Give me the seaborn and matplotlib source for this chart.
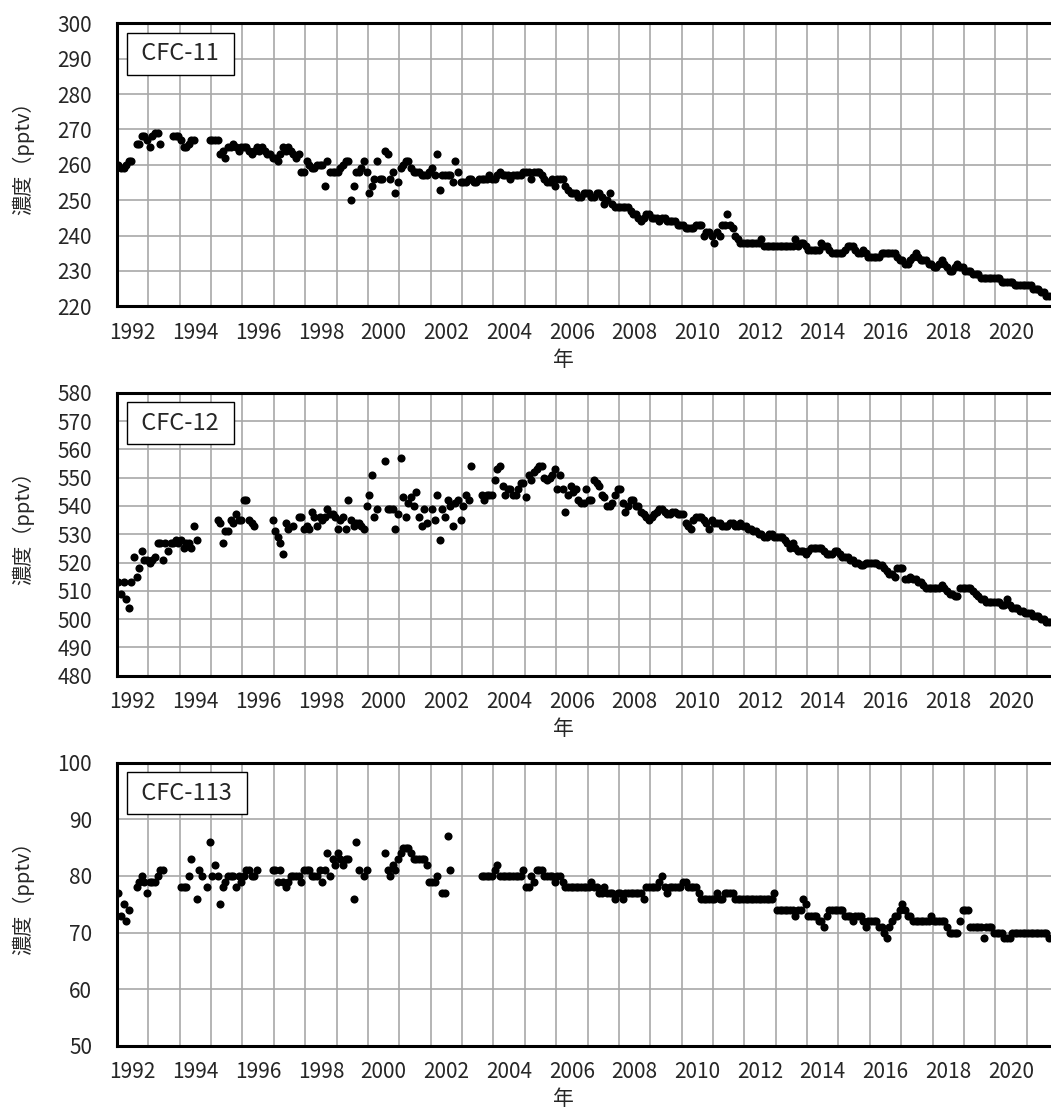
import pandas as pd
import matplotlib.pyplot as plt
import seaborn as sns

# monthly values, one string per year (Jan..Dec), "." = no data
years = list(range(1992, 2022))
label_years = list(range(1992, 2021, 2))

cfc11 = [
    "260 259 259 260 261 261 . 266 266 268 268 267",
    "265 268 269 269 266 . . . . 268 268 268",
    "267 265 265 266 267 267 . . . . . 267",
    "267 267 267 263 264 262 265 265 266 265 264 265",
    "265 265 264 263 264 265 264 265 264 263 263 262",
    "262 261 263 265 264 265 264 263 262 263 258 258",
    "261 260 259 259 260 260 260 254 261 258 258 258",
    "258 259 260 261 261 250 254 258 258 259 261 258",
    "252 254 256 261 256 256 264 263 256 258 252 255",
    "259 260 261 261 259 258 258 258 257 257 257 258",
    "259 257 263 253 257 257 257 257 255 261 258 255",
    "255 255 256 256 255 255 256 256 256 256 257 256",
    "256 257 258 257 257 257 256 257 257 257 257 258",
    "258 258 256 258 258 258 257 256 255 255 256 254",
    "256 256 256 254 253 252 252 252 251 251 252 252",
    "252 251 251 252 252 251 249 250 252 249 248 248",
    "248 248 248 248 247 246 246 245 244 245 246 246",
    "245 245 245 244 245 245 244 244 244 244 243 243",
    "243 242 242 242 242 243 243 243 240 241 241 240",
    "238 241 240 243 243 246 243 242 240 239 238 238",
    "238 238 238 238 238 238 239 237 237 237 237 237",
    "237 237 237 237 237 237 237 239 237 238 238 237",
    "236 236 236 236 236 238 237 237 236 235 235 235",
    "235 235 236 237 237 237 236 235 235 236 235 234",
    "234 234 234 234 235 235 235 235 235 235 234 233",
    "233 232 232 233 234 235 234 233 233 233 232 232",
    "231 231 232 233 232 231 230 230 231 232 231 231",
    "230 230 230 229 229 229 228 228 228 228 228 228",
    "228 228 227 227 227 227 227 226 226 226 226 226",
    "226 226 225 225 225 224 224 223 223",
]

cfc12 = [
    "513 509 513 507 504 513 522 515 518 524 521 521",
    "520 521 522 527 527 521 527 524 527 527 528 527",
    "528 525 527 527 525 533 528 . . . . .",
    ". . 535 534 527 531 531 535 534 537 535 535",
    "542 542 535 534 533 . . . . . . 535",
    "531 529 527 523 534 532 . 533 . 536 536 532",
    "533 532 538 536 533 536 535 536 539 537 537 536",
    "532 535 536 532 542 535 533 534 534 533 532 540",
    "544 551 536 539 . . 556 539 539 539 532 537",
    "557 543 536 541 543 540 545 536 533 539 534 .",
    "539 535 544 528 539 536 542 540 533 541 542 535",
    "540 544 542 554 . . . 544 542 544 544 544",
    "549 553 554 547 544 546 546 544 544 546 548 548",
    "543 551 549 552 553 554 554 550 549 550 551 553",
    "546 551 546 538 544 547 545 546 542 541 541 546",
    "542 542 549 548 547 544 543 540 540 541 544 546",
    "546 541 538 540 542 542 540 540 538 537 536 535",
    "536 537 538 539 539 538 537 537 538 538 537 537",
    "537 534 533 532 535 536 536 536 535 534 532 535",
    "534 534 534 533 533 533 534 534 533 533 534 533",
    "533 532 532 531 531 530 530 529 529 530 530 529",
    "529 529 529 528 527 525 527 525 524 524 524 523",
    "524 525 525 525 525 525 524 523 523 523 524 524",
    "523 522 522 522 521 521 520 520 519 519 520 520",
    "520 520 520 519 519 518 517 516 516 515 518 518",
    "518 514 514 515 514 514 513 513 512 511 511 511",
    "511 511 511 512 511 510 509 509 508 508 511 511",
    "511 511 511 510 509 508 507 507 506 506 506 506",
    "506 506 505 505 507 505 504 504 504 503 503 502",
    "502 502 501 501 501 500 500 499 499",
]

cfc113 = [
    "77 73 75 72 74 . . 78 79 80 79 77",
    "79 79 79 80 81 81 . . . . . .",
    "78 78 78 80 83 . 76 81 80 . 78 86",
    "80 82 80 75 78 79 80 80 80 78 80 79",
    "80 81 81 80 80 81 . . . . . 81",
    "81 79 81 79 78 79 80 80 80 80 79 81",
    "81 81 80 80 80 81 79 81 84 80 83 82",
    "84 83 82 83 83 . 76 86 81 . 80 81",
    ". . . . . . 84 81 80 82 81 83",
    "84 85 85 85 84 83 83 83 83 83 82 79",
    "79 79 80 . 77 77 87 81 . . . .",
    ". . . . . . . 80 80 80 80 80",
    "81 82 80 80 80 80 80 80 80 80 80 81",
    "78 78 80 79 81 81 81 80 80 80 80 79",
    "80 80 79 78 78 78 78 78 78 78 78 78",
    "78 79 78 78 77 77 78 77 77 77 76 77",
    "77 76 77 77 77 77 77 77 77 76 78 78",
    "78 78 78 79 80 78 77 78 78 78 78 78",
    "79 79 78 78 78 78 77 76 76 76 76 76",
    "76 77 76 76 77 77 77 77 76 76 76 76",
    "76 76 76 76 76 76 76 76 76 76 76 77",
    "74 74 74 74 74 74 74 73 74 74 76 75",
    "73 73 73 73 72 72 71 73 74 74 74 74",
    "74 74 73 73 73 72 73 73 73 72 71 72",
    "72 72 72 71 71 70 69 71 72 73 73 74",
    "75 74 73 73 72 72 72 72 72 72 72 73",
    "72 72 72 72 72 71 70 70 70 70 72 74",
    "74 74 71 71 71 71 71 69 71 71 71 70",
    "70 70 70 69 69 69 70 70 70 70 70 70",
    "70 70 70 70 70 70 70 70 69",
]

names = ["CFC-11", "CFC-12", "CFC-113"]
ylims = [(220, 300), (480, 580), (50, 100)]


def to_frame(rows):
    recs = []
    for yr, row in zip(years, rows):
        for m, tok in enumerate(row.split()):
            if tok != ".":
                recs.append((yr + (m + 0.5) / 12, float(tok)))
    return pd.DataFrame(recs, columns=["t", "ppt"])


sns.set_style("white")
plt.rcParams["font.family"] = ["Noto Sans CJK JP", "DejaVu Sans"]

fig = plt.figure(figsize=(10.51, 11.11), dpi=100)
W, H = 1051, 1111
tops = [23.3, 392.7, 762.7]

for name, rows, ylim, top in zip(names, [cfc11, cfc12, cfc113], ylims, tops):
    # axes runs past the right edge of the figure (cropped like the original)
    ax = fig.add_axes([117 / W, 1 - (top + 283) / H, 941 / W, 283 / H])
    df = to_frame(rows)
    sns.scatterplot(data=df, x="t", y="ppt", ax=ax, color="black",
                    s=34, linewidth=0, zorder=3, legend=False)

    ax.set_xlim(1992, 2022)
    ax.set_ylim(*ylim)
    ax.set_yticks(range(ylim[0], ylim[1] + 1, 10))

    ax.set_xticks(range(1992, 2023))
    ax.set_xticklabels([])
    ax.set_xticks([y + 0.5 for y in label_years], minor=True)
    ax.set_xticklabels([str(y) for y in label_years], minor=True)

    ax.set_axisbelow(True)
    ax.grid(True, which="major", color="#a8a8a8", lw=1.2)
    ax.tick_params(which="both", length=0, labelsize=15)
    ax.tick_params(axis="x", which="minor", pad=11)
    ax.tick_params(axis="y", pad=18)
    for sp in ax.spines.values():
        sp.set_color("black")
        sp.set_linewidth(2.2)

    ax.set_xlabel("年", fontsize=15)
    ax.xaxis.set_label_coords(0.474, -0.15)
    ax.set_ylabel("濃度（pptv）", fontsize=14.5)
    ax.yaxis.set_label_coords(-0.088, 0.54)

    ax.text(0.0206, 0.933, " " + name + " ", transform=ax.transAxes,
            ha="left", va="top", fontsize=17,
            bbox=dict(boxstyle="square,pad=0.4", fc="white", ec="black", lw=1))

fig.savefig("out.png", dpi=100)
